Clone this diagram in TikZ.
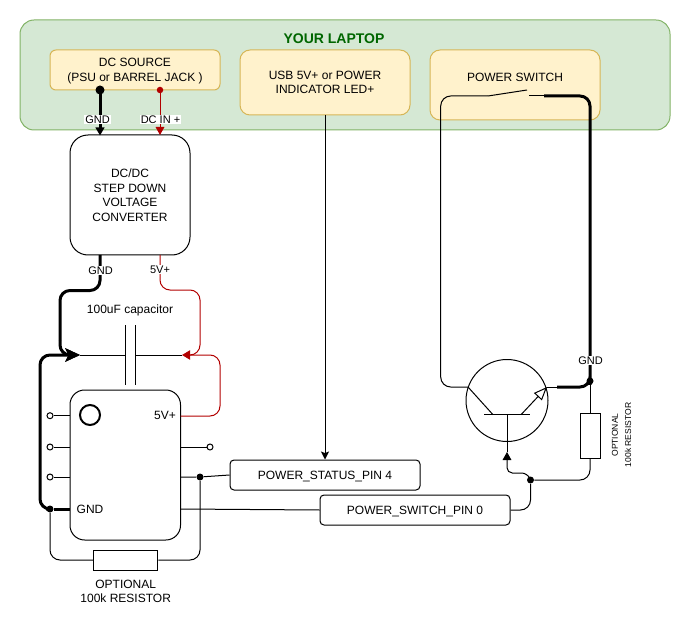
\documentclass[tikz,border=0pt]{standalone}
\usepackage{fontspec}
\setmainfont{Liberation Sans}
\usepackage{xcolor}
\usetikzlibrary{arrows.meta,positioning}
\definecolor{laptopfill}{HTML}{D5E8D4}
\definecolor{laptopline}{HTML}{82B366}
\definecolor{boxfill}{HTML}{FFF2CC}
\definecolor{boxline}{HTML}{D6B656}
\definecolor{wirered}{HTML}{B20000}
\definecolor{laptopgreen}{HTML}{006600}
\tikzset{
  pxsize/.style 2 args={minimum width=#1*.75pt,minimum height=#2*.75pt,inner sep=0pt},
  label9/.style={font=\fontsize{9}{10.9}\selectfont,align=center,inner sep=0pt},
  label8/.style={font=\fontsize{8.25}{10}\selectfont,align=center,inner sep=0pt},
  yellowbox/.style={draw=boxline,fill=boxfill,line width=.75pt,label9},
  blackbox/.style={draw=black,fill=white,line width=.75pt,label9},
  wire/.style={line width=.75pt,rounded corners=7.5pt},
  thickwire/.style={line width=2.25pt,rounded corners=7.5pt},
  redwire/.style={wire,draw=wirered},
  dot/.style={circle,fill=black,inner sep=0pt,minimum size=#1*.75pt},
  pin/.style={circle,draw,fill=white,line width=.75pt,inner sep=0pt,minimum size=6*.75pt},
  tip/.style={-{Stealth[length=6pt,width=6pt,inset=1.2pt]}},
  bigtip/.style={-{Stealth[length=11pt,width=10pt,inset=2.5pt]}},
}
\begin{document}
\begin{tikzpicture}[x=.75pt,y=-.75pt]
   \useasboundingbox (0,0) rectangle (692,627);

   % laptop and its boxes
   \node[draw=laptopline,fill=laptopfill,line width=.75pt,rounded corners=10.5pt,pxsize={650}{110}] (laptop) at (345,75) {};
   \node[font=\fontsize{10.5}{12}\selectfont\bfseries,text=laptopgreen] (laptoptitle) at (334,38.5) {YOUR LAPTOP};
   \node[yellowbox,rounded corners=4.5pt,pxsize={170}{40},text depth=0pt] (source) at (135,70) {DC SOURCE\\(PSU or BARREL JACK )};
   \node[yellowbox,rounded corners=7.5pt,pxsize={170}{65}] (usb) at (325,82.5) {USB 5V+ or POWER\\INDICATOR LED+};
   \node[yellowbox,rounded corners=7.5pt,pxsize={170}{70},text depth=11.5pt] (switch) at (515,85) {POWER SWITCH};

   % main blocks
   \node[blackbox,rounded corners=13.5pt,pxsize={120}{120}] (conv) at (130,195) {DC/DC\\STEP DOWN\\VOLTAGE\\CONVERTER};
   \node[draw,line width=.75pt,rounded corners=11pt,pxsize={110.5}{150}] (chip) at (125.25,465) {};
   \node[draw,line width=1.5pt,circle,inner sep=0pt,minimum size=20*.75pt] (chipmark) at (90,415) {};
   \node[label9] (chip5v) at (165,415) {5V+};
   \node[label9] (chipgnd) at (90,509.5) {GND};
   \node[blackbox,rounded corners=3pt,pxsize={190}{30},text height=8pt] (status) at (325,475) {POWER\_STATUS\_PIN 4};
   \node[blackbox,rounded corners=3pt,pxsize={190}{30},text height=8pt] (swpin) at (415,510) {POWER\_SWITCH\_PIN 0};

   % named points
   \coordinate (srcgnd) at (100,90);
   \coordinate (srcred) at (160,90);
   \coordinate (convgnd) at (100,255);
   \coordinate (convred) at (160,255);
   \coordinate (capl) at (125.7,355);
   \coordinate (capr) at (135.7,355);
   \coordinate (capin) at (80,355);
   \coordinate (capout) at (182,355);
   \coordinate (chip5vpin) at (180.5,416);
   \coordinate (usbout) at (325,115);
   \coordinate (swa) at (488,96);
   \coordinate (swb) at (527,90);
   \coordinate (swc) at (529,96);
   \coordinate (swd) at (544,96);
   \coordinate (qc) at (468,387);
   \coordinate (qcin) at (493,414.7);
   \coordinate (qe) at (547,387);
   \coordinate (qein) at (521,414.7);
   \coordinate (qeout) at (557,387);
   \coordinate (qb) at (507,414.7);
   \coordinate (qbarl) at (484,414.7);
   \coordinate (qbarr) at (530,414.7);
   \coordinate (qtip) at (507,452);

   % junctions and pins
   \node[dot=9] (dotgnd) at (srcgnd) {};
   \node[dot=6.5,fill=wirered] (dotred) at (srcred) {};
   \node[dot=7] (dotchip) at (50,509) {};
   \node[dot=7] (dotstatus) at (200,477) {};
   \node[dot=7] (dote) at (590,381) {};
   \node[dot=7] (dotbase) at (530.5,480) {};
   \node[pin] (pina) at (50,415.7) {};
   \node[pin] (pinb) at (50,447) {};
   \node[pin] (pinc) at (50,477) {};
   \node[pin] (pind) at (210,447) {};

   % resistors
   \node[draw,fill=white,line width=.75pt,pxsize={64.5}{20}] (resa) at (125.7,560) {};
   \node[draw,fill=white,line width=.75pt,pxsize={20}{45}] (resb) at (590,435.5) {};
   \node[label9] (resatext) at (125.7,591.5) {OPTIONAL\\100k RESISTOR};
   \node[font=\fontsize{6.4}{10}\selectfont,align=center,inner sep=0pt,rotate=90] (resbtext) at (621.5,435) {OPTIONAL\\100k RESISTOR};

   % transistor
   \node[draw,circle,line width=.75pt,inner sep=0pt,minimum size=82*.75pt] (trans) at (507,400.5) {};
   \draw[line width=.75pt] (qbarl) -- (qbarr);
   \draw[line width=.75pt] (qc) -- (qcin);
   \draw[line width=.75pt,-{Stealth[length=10pt,width=8pt,inset=0pt,fill=white]}] (qein) -- (qe);

   % capacitor
   \draw[line width=.75pt] (125.7,325) coordinate (capla) -- (125.7,385) coordinate (caplb);
   \draw[line width=.75pt] (135.7,325) coordinate (capra) -- (135.7,385) coordinate (caprb);
   \draw[line width=.75pt] (capin) -- (capl);
   \draw[line width=.75pt] (capr) -- (capout);
   \node[label9] (captext) at (130,310) {100uF capacitor};

   % thick ground wires
   \draw[thickwire,-{Stealth[length=6pt,width=6.5pt,inset=0pt]}] (srcgnd) -- (100,135.5) coordinate (convtopa);
   \draw[thickwire] (convgnd) -- (100,290.5) -- (60,290.5) -- (60,340);
   \draw[thickwire,bigtip] (60,340) -- (60,355) -- (capin);
   \draw[thickwire,bigtip] (dotchip) -- (40,509) -- (40,355) -- (capin);
   \draw[thickwire] (chip.west |- dotchip) -- (dotchip);
   \draw[thickwire] (qeout) -- (590,387) -- (dote);
   \draw[thickwire] (dote) -- (590,96) -- (swd);

   % thin wires
   \draw[redwire,-{Stealth[length=6pt,width=6.5pt,inset=0pt]}] (srcred) -- (160,135) coordinate (convtopb);
   \draw[redwire] (convred) -- (160,290) -- (200,290) -- (200,355) -- (188,355);
   \draw[redwire] (chip5vpin) -- (220,416) -- (220,355) -- (188,355);
   \draw[draw=wirered,fill=wirered,line width=.75pt,-{Stealth[length=6pt,width=7pt,inset=0pt]}] (188,355) -- (capout);
   \draw[line width=.75pt,tip] (usbout) -- (status.north -| usbout);
   \draw[wire] (swa) -- (440.7,96) -- (440.7,387) -- (qc);
   \draw[line width=.75pt] (swa) -- (swb);
   \draw[line width=.75pt] (swc) -- (swd);
   \draw[line width=.75pt] (qe) -- (qeout);
   \draw[line width=.75pt] (dote) -- (resb.north);
   \draw[wire] (resb.south) -- (590,480) -- (dotbase);
   \draw[wire] (swpin.east) -- (530.5,510) -- (dotbase);
   \draw[line width=.75pt,rounded corners=4pt,-{Stealth[length=6pt,width=6.5pt,inset=0pt]}] (dotbase) -- (527,473) -- (507,473) -- (qtip);
   \draw[line width=.75pt] (qtip) -- (qb);
   \draw[line width=.75pt] (pina) -- (chip.west |- pina);
   \draw[line width=.75pt] (pinb) -- (chip.west |- pinb);
   \draw[line width=.75pt] (pinc) -- (chip.west |- pinc);
   \draw[line width=.75pt] (chip.east |- pind) -- (pind);
   \draw[line width=.75pt] (chip.east |- dotstatus) -- (dotstatus) -- (status.west);
   \draw[line width=.75pt] (chip.east |- dotchip) -- (swpin.west);
   \draw[wire] (dotchip) -- (50,560) -- (resa.west);
   \draw[wire] (resa.east) -- (200,560) -- (dotstatus);

   % wire labels
   \node[label8,fill=white,inner sep=.8pt] (lblgnd) at (97.5,119.5) {GND};
   \node[label8,fill=white,inner sep=.8pt] (lbldc) at (160.5,119.5) {DC IN +};
   \node[label8,fill=white,inner sep=.8pt] (lblcgnd) at (100.5,270.5) {GND};
   \node[label8,fill=white,inner sep=.8pt] (lblc5v) at (160,269.5) {5V+};
   \node[label8,fill=white,inner sep=.8pt] (lblegnd) at (590.5,360.5) {GND};
\end{tikzpicture}
\end{document}
